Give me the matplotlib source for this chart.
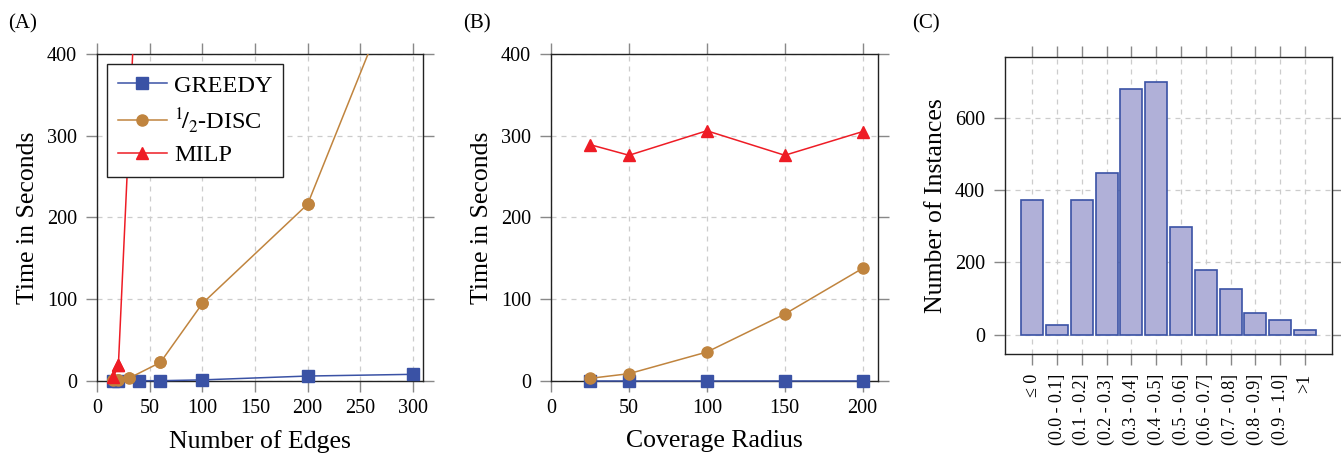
import matplotlib
matplotlib.use("Agg")
import matplotlib.pyplot as plt
import numpy as np

plt.rcParams['font.family'] = ['Liberation Serif', 'DejaVu Serif']
plt.rcParams['mathtext.fontset'] = 'stix'

# Panel A data
edges_greedy = [15, 20, 40, 60, 100, 200, 300]
time_greedy_a = [0, 0, 0, 0, 1, 5.7, 7.8]
edges_disc = [15, 20, 30, 60, 100, 200, 300]
time_disc_a = [0.5, 1, 3, 22.4, 94.7, 216, 536]
edges_milp = [15, 20, 40]
time_milp_a = [4, 19, 580]

# Panel B data
radius = [25, 50, 100, 150, 200]
time_greedy_b = [0, 0, 0, 0, 0]
time_disc_b = [2.9, 8.6, 35.1, 81.6, 137.6]
time_milp_b = [289, 276, 306, 276, 305]

# Panel C data
bins = ["\u2264 0", "(0.0 - 0.1]", "(0.1 - 0.2]", "(0.2 - 0.3]", "(0.3 - 0.4]",
        "(0.4 - 0.5]", "(0.5 - 0.6]", "(0.6 - 0.7]", "(0.7 - 0.8]", "(0.8 - 0.9]",
        "(0.9 - 1.0]", ">1"]
counts = [374, 27, 373, 448, 680, 698, 297, 180, 128, 61, 42, 13]

C_GREEDY = '#3a52a5'
C_DISC = '#c0843e'
C_MILP = '#ee1c25'

TICK_FS = 14.5
LABEL_FS = 18.5

fig = plt.figure(figsize=(13.41, 4.53), dpi=100)
axA = fig.add_axes([0.0726, 0.1596, 0.2430, 0.7212])
axB = fig.add_axes([0.4110, 0.1596, 0.2439, 0.7212])
axC = fig.add_axes([0.7494, 0.2185, 0.2441, 0.6550])

def style(ax):
    ax.grid(True, linestyle=(0, (4, 4)), color='#cccccc', linewidth=0.9)
    ax.set_axisbelow(True)
    ax.tick_params(direction='out', length=8, width=1, color='#888888',
                   top=True, right=True, labelsize=TICK_FS)
    ax.tick_params(axis='x', pad=5.5)
    ax.tick_params(axis='y', pad=6.5)
    for s in ax.spines.values():
        s.set_linewidth(1.0)
        s.set_color('#222222')

for ax in (axA, axB):
    style(ax)
    ax.set_ylim(0, 400)
    ax.set_yticks([0, 100, 200, 300, 400])
    ax.set_ylabel('Time in Seconds', fontsize=LABEL_FS, labelpad=5.5)

# Panel A
lg, = axA.plot(edges_greedy, time_greedy_a, color=C_GREEDY, marker='s', markersize=8,
               linewidth=1.1, clip_on=False, zorder=3)
ld, = axA.plot(edges_disc, time_disc_a, color=C_DISC, marker='o', markersize=8,
               linewidth=1.1, zorder=3)
lm, = axA.plot(edges_milp, time_milp_a, color=C_MILP, marker='^', markersize=8,
               linewidth=1.1, zorder=3)
# in-range markers drawn unclipped so they overhang the axis like the original
axA.plot(edges_disc[:6], time_disc_a[:6], color=C_DISC, marker='o', markersize=8,
         linestyle='none', clip_on=False, zorder=4)
axA.plot(edges_milp[:2], time_milp_a[:2], color=C_MILP, marker='^', markersize=8,
         linestyle='none', clip_on=False, zorder=4)
axA.set_xlim(0, 310)
axA.set_xticks([0, 50, 100, 150, 200, 250, 300])
axA.set_xlabel('Number of Edges', fontsize=LABEL_FS, labelpad=8)
leg = axA.legend([lg, ld, lm], ['GREEDY', r'$^{1}\!/_{2}$-DISC', 'MILP'],
                 loc='upper left', bbox_to_anchor=(0.03, 0.97), borderaxespad=0,
                 fontsize=17.5, frameon=True, fancybox=False, edgecolor='#222222',
                 framealpha=1, handlelength=2.0, borderpad=0.45, labelspacing=0.38,
                 handletextpad=0.3)
leg.get_frame().set_linewidth(1.0)
leg.set_zorder(10)

# Panel B
axB.plot(radius, time_greedy_b, color=C_GREEDY, marker='s', markersize=8,
         linewidth=1.1, clip_on=False, zorder=3)
axB.plot(radius, time_disc_b, color=C_DISC, marker='o', markersize=8,
         linewidth=1.1, clip_on=False, zorder=4)
axB.plot(radius, time_milp_b, color=C_MILP, marker='^', markersize=8,
         linewidth=1.1, clip_on=False, zorder=3)
axB.set_xlim(0, 210)
axB.set_xticks([0, 50, 100, 150, 200])
axB.set_xlabel('Coverage Radius', fontsize=LABEL_FS, labelpad=8)

# Panel C
style(axC)
xpos = np.arange(len(bins))
axC.bar(xpos, counts, width=0.89, color='#b0b0d8', edgecolor=C_GREEDY, linewidth=1.2, zorder=3)
axC.set_xlim(-1.1, 12.1)
axC.set_ylim(-53, 767)
axC.set_yticks([0, 200, 400, 600])
axC.set_xticks(xpos)
axC.set_xticklabels(bins, rotation=90, fontsize=13)
axC.tick_params(axis='x', pad=6)
axC.set_ylabel('Number of Instances', fontsize=LABEL_FS, labelpad=5.5)

fig.text(8/1341, 1 - 24/453, '(A)', fontsize=15, va='center', ha='left')
fig.text(463/1341, 1 - 24/453, '(B)', fontsize=15, va='center', ha='left')
fig.text(912/1341, 1 - 24/453, '(C)', fontsize=15, va='center', ha='left')

fig.savefig('out.png', dpi=100)
